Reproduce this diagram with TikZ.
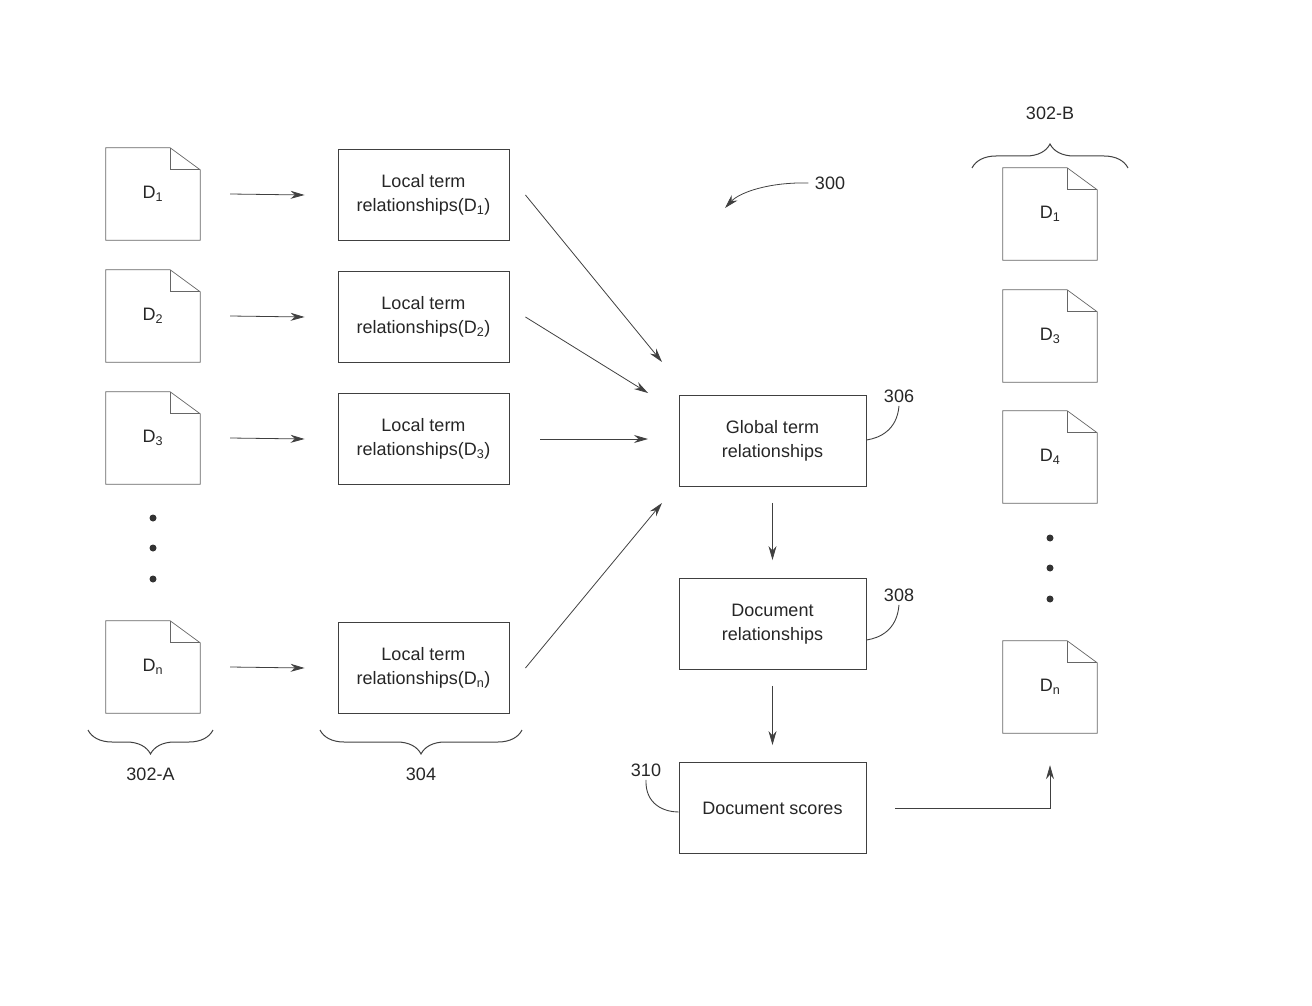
\documentclass[tikz,border=0pt]{standalone}
\usepackage{fontspec}
\setmainfont{Liberation Sans}
\usetikzlibrary{arrows.meta,decorations.pathreplacing}
\begin{document}
\begin{tikzpicture}[x=1pt,y=-1pt,
  every node/.style={font=\fontsize{18}{24}\selectfont, text=black!85},
  box/.style={draw=black!75, line width=0.9pt, minimum width=171pt, minimum height=91pt, align=center, inner sep=0},
  gbox/.style={box, minimum width=187pt},
  doc/.style={minimum width=94pt, minimum height=92pt, inner sep=0},
  arr/.style={draw=black!75, line width=0.8pt, -{Stealth[length=14pt,width=8pt]}},
  brace/.style={draw=black!75, line width=1pt, decorate, decoration={brace, amplitude=24pt}},
  lead/.style={draw=black!75, line width=0.9pt}]
\useasboundingbox (0,0) rectangle (1312,1006);
\newcommand{\mydoc}[4]{%
  \node[doc] (#1) at (#2,#3) {#4};
  \draw[black!60, line width=0.7pt] (#1.north west) -- ([xshift=-30pt]#1.north east) -- ([yshift=-22pt]#1.north east) -- (#1.south east) -- (#1.south west) -- cycle;
  \draw[black!60, line width=0.7pt] ([xshift=-30pt]#1.north east) -- ([xshift=-30pt,yshift=-22pt]#1.north east) -- ([yshift=-22pt]#1.north east);}
\mydoc{a1}{153}{194}{D\textsubscript{1}}
\mydoc{a2}{153}{316}{D\textsubscript{2}}
\mydoc{a3}{153}{438}{D\textsubscript{3}}
\mydoc{an}{153}{667}{D\textsubscript{n}}
\mydoc{b1}{1050}{214}{D\textsubscript{1}}
\mydoc{b3}{1050}{336}{D\textsubscript{3}}
\mydoc{b4}{1050}{457}{D\textsubscript{4}}
\mydoc{bn}{1050}{687}{D\textsubscript{n}}
\foreach \y in {518,548,579} \fill[black!80] (153,\y) circle (3.5pt);
\foreach \y in {538,568,599} \fill[black!80] (1050,\y) circle (3.5pt);
\node[box] (l1) at (423.5,195) {Local term\\relationships(D\textsubscript{1})};
\node[box] (l2) at (423.5,317) {Local term\\relationships(D\textsubscript{2})};
\node[box] (l3) at (423.5,439) {Local term\\relationships(D\textsubscript{3})};
\node[box] (ln) at (423.5,668) {Local term\\relationships(D\textsubscript{n})};
\node[gbox] (g) at (772.5,441) {Global term\\relationships};
\node[gbox] (dr) at (772.5,624) {Document\\relationships};
\node[gbox] (ds) at (772.5,808) {Document scores};
\foreach \s/\t in {a1/l1,a2/l2,a3/l3,an/ln}
  \draw[arr] ([xshift=30pt]\s.east) -- ([xshift=-33pt]\t.west);
\coordinate (g1) at (662,362); \coordinate (g2) at (648,393);
\coordinate (g3) at (648,439); \coordinate (g4) at (662,503);
\draw[arr] ([xshift=16pt]l1.east) -- (g1);
\draw[arr] ([xshift=16pt]l2.east) -- (g2);
\draw[arr] ([xshift=31pt]l3.east) -- (g3);
\draw[arr] ([xshift=16pt]ln.east) -- (g4);
\draw[arr] ([yshift=-16pt]g.south) -- ([yshift=18pt]dr.north);
\draw[arr] ([yshift=-16pt]dr.south) -- ([yshift=17pt]ds.north);
\coordinate (c1) at (1050,808);
\draw[arr] ([xshift=29pt]ds.east) -- (c1) -- ([yshift=-32pt]bn.south);
\node (n300) at (830,183) {300};
\coordinate (t300) at (725,208);
\draw[arr] ([xshift=-3pt]n300.west) .. controls (770,182) and (740,192) .. (t300);
\node (n306) at (899,396) {306};
\draw[lead] (n306.south) .. controls (897,430) and (880,438) .. (g.east |- 0,440);
\node (n308) at (899,595) {308};
\draw[lead] (n308.south) .. controls (897,630) and (880,638) .. (dr.east |- 0,640);
\node (n310) at (646,770) {310};
\draw[lead] (n310.south) .. controls (645,805) and (665,812) .. (ds.west |- 0,812);
\draw[brace] (213,730) -- node[below=34pt] (la) {302-A} (88,730);
\draw[brace] (522,730) -- node[below=34pt] (lb) {304} (320,730);
\draw[brace] (972,168) -- node[above=44pt] (lc) {302-B} (1128,168);
\end{tikzpicture}
\end{document}
